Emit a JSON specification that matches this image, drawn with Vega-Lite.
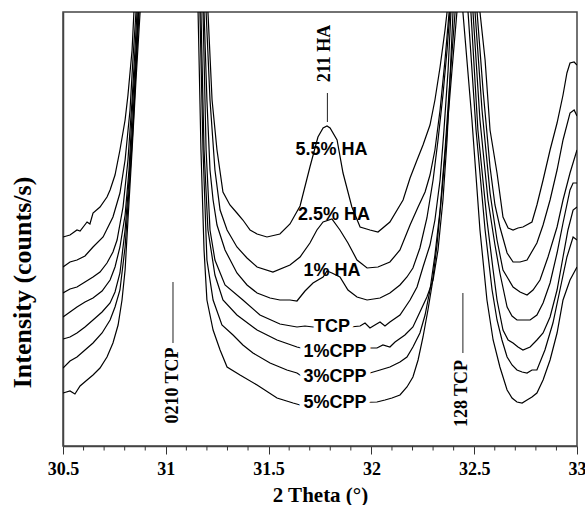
{
  "$schema": "https://vega.github.io/schema/vega-lite/v6.json",
  "width": 514,
  "height": 434,
  "autosize": {"type": "none"},
  "padding": {"left": 63, "top": 12, "right": 8, "bottom": 59},
  "background": "white",
  "config": {
    "view": {"stroke": "#444", "strokeWidth": 1.5},
    "axis": {"domainColor": "#444", "domainWidth": 1.5, "tickColor": "#333", "tickWidth": 1, "labelFont": "Liberation Serif", "labelFontWeight": "bold", "labelFontSize": 18, "labelColor": "black", "titleFont": "Liberation Serif", "titleFontWeight": "bold", "titleColor": "black", "grid": false}
  },
  "datasets": {
    "curves": [
      {"s":"5.5% HA","t":30.500,"i":209},{"s":"5.5% HA","t":30.534,"i":211},{"s":"5.5% HA","t":30.568,"i":216},{"s":"5.5% HA","t":30.583,"i":215},{"s":"5.5% HA","t":30.617,"i":224},{"s":"5.5% HA","t":30.631,"i":222},{"s":"5.5% HA","t":30.646,"i":233},{"s":"5.5% HA","t":30.680,"i":239},{"s":"5.5% HA","t":30.714,"i":249},{"s":"5.5% HA","t":30.729,"i":256},{"s":"5.5% HA","t":30.753,"i":271},{"s":"5.5% HA","t":30.777,"i":296},{"s":"5.5% HA","t":30.802,"i":326},{"s":"5.5% HA","t":30.816,"i":351},{"s":"5.5% HA","t":30.836,"i":396},{"s":"5.5% HA","t":30.845,"i":434},{"s":"5.5% HA","t":31.030,"i":2000},{"s":"5.5% HA","t":31.205,"i":434},{"s":"5.5% HA","t":31.225,"i":346},{"s":"5.5% HA","t":31.249,"i":296},{"s":"5.5% HA","t":31.278,"i":254},{"s":"5.5% HA","t":31.312,"i":241},{"s":"5.5% HA","t":31.346,"i":233},{"s":"5.5% HA","t":31.375,"i":226},{"s":"5.5% HA","t":31.410,"i":216},{"s":"5.5% HA","t":31.444,"i":212},{"s":"5.5% HA","t":31.492,"i":209},{"s":"5.5% HA","t":31.555,"i":212},{"s":"5.5% HA","t":31.604,"i":222},{"s":"5.5% HA","t":31.653,"i":240},{"s":"5.5% HA","t":31.701,"i":279},{"s":"5.5% HA","t":31.740,"i":309},{"s":"5.5% HA","t":31.765,"i":318},{"s":"5.5% HA","t":31.784,"i":320},{"s":"5.5% HA","t":31.799,"i":318},{"s":"5.5% HA","t":31.833,"i":306},{"s":"5.5% HA","t":31.862,"i":273},{"s":"5.5% HA","t":31.905,"i":239},{"s":"5.5% HA","t":31.945,"i":219},{"s":"5.5% HA","t":31.993,"i":216},{"s":"5.5% HA","t":32.032,"i":214},{"s":"5.5% HA","t":32.090,"i":224},{"s":"5.5% HA","t":32.154,"i":246},{"s":"5.5% HA","t":32.188,"i":268},{"s":"5.5% HA","t":32.222,"i":286},{"s":"5.5% HA","t":32.251,"i":301},{"s":"5.5% HA","t":32.285,"i":321},{"s":"5.5% HA","t":32.309,"i":346},{"s":"5.5% HA","t":32.334,"i":379},{"s":"5.5% HA","t":32.358,"i":416},{"s":"5.5% HA","t":32.368,"i":434},{"s":"5.5% HA","t":32.440,"i":2000},{"s":"5.5% HA","t":32.528,"i":434},{"s":"5.5% HA","t":32.553,"i":386},{"s":"5.5% HA","t":32.577,"i":316},{"s":"5.5% HA","t":32.611,"i":273},{"s":"5.5% HA","t":32.640,"i":229},{"s":"5.5% HA","t":32.665,"i":218},{"s":"5.5% HA","t":32.689,"i":216},{"s":"5.5% HA","t":32.713,"i":218},{"s":"5.5% HA","t":32.737,"i":219},{"s":"5.5% HA","t":32.781,"i":224},{"s":"5.5% HA","t":32.805,"i":241},{"s":"5.5% HA","t":32.835,"i":266},{"s":"5.5% HA","t":32.869,"i":296},{"s":"5.5% HA","t":32.903,"i":323},{"s":"5.5% HA","t":32.932,"i":351},{"s":"5.5% HA","t":32.951,"i":373},{"s":"5.5% HA","t":32.966,"i":383},{"s":"5.5% HA","t":32.986,"i":384},{"s":"5.5% HA","t":33.000,"i":381},

      {"s":"2.5% HA","t":30.500,"i":179},{"s":"2.5% HA","t":30.534,"i":184},{"s":"2.5% HA","t":30.568,"i":186},{"s":"2.5% HA","t":30.607,"i":190},{"s":"2.5% HA","t":30.646,"i":199},{"s":"2.5% HA","t":30.695,"i":209},{"s":"2.5% HA","t":30.743,"i":229},{"s":"2.5% HA","t":30.777,"i":253},{"s":"2.5% HA","t":30.802,"i":286},{"s":"2.5% HA","t":30.826,"i":336},{"s":"2.5% HA","t":30.840,"i":386},{"s":"2.5% HA","t":30.855,"i":434},{"s":"2.5% HA","t":31.030,"i":2000},{"s":"2.5% HA","t":31.196,"i":434},{"s":"2.5% HA","t":31.215,"i":346},{"s":"2.5% HA","t":31.239,"i":276},{"s":"2.5% HA","t":31.264,"i":236},{"s":"2.5% HA","t":31.298,"i":216},{"s":"2.5% HA","t":31.346,"i":199},{"s":"2.5% HA","t":31.395,"i":188},{"s":"2.5% HA","t":31.444,"i":179},{"s":"2.5% HA","t":31.521,"i":174},{"s":"2.5% HA","t":31.604,"i":181},{"s":"2.5% HA","t":31.653,"i":189},{"s":"2.5% HA","t":31.701,"i":203},{"s":"2.5% HA","t":31.735,"i":216},{"s":"2.5% HA","t":31.765,"i":224},{"s":"2.5% HA","t":31.808,"i":227},{"s":"2.5% HA","t":31.847,"i":216},{"s":"2.5% HA","t":31.886,"i":203},{"s":"2.5% HA","t":31.930,"i":186},{"s":"2.5% HA","t":31.979,"i":178},{"s":"2.5% HA","t":32.032,"i":179},{"s":"2.5% HA","t":32.090,"i":184},{"s":"2.5% HA","t":32.139,"i":196},{"s":"2.5% HA","t":32.188,"i":221},{"s":"2.5% HA","t":32.227,"i":239},{"s":"2.5% HA","t":32.261,"i":254},{"s":"2.5% HA","t":32.285,"i":271},{"s":"2.5% HA","t":32.309,"i":296},{"s":"2.5% HA","t":32.334,"i":336},{"s":"2.5% HA","t":32.358,"i":386},{"s":"2.5% HA","t":32.378,"i":434},{"s":"2.5% HA","t":32.440,"i":2000},{"s":"2.5% HA","t":32.514,"i":434},{"s":"2.5% HA","t":32.543,"i":356},{"s":"2.5% HA","t":32.577,"i":279},{"s":"2.5% HA","t":32.601,"i":241},{"s":"2.5% HA","t":32.625,"i":219},{"s":"2.5% HA","t":32.660,"i":193},{"s":"2.5% HA","t":32.689,"i":184},{"s":"2.5% HA","t":32.723,"i":184},{"s":"2.5% HA","t":32.757,"i":186},{"s":"2.5% HA","t":32.805,"i":203},{"s":"2.5% HA","t":32.835,"i":221},{"s":"2.5% HA","t":32.869,"i":246},{"s":"2.5% HA","t":32.903,"i":276},{"s":"2.5% HA","t":32.932,"i":306},{"s":"2.5% HA","t":32.966,"i":333},{"s":"2.5% HA","t":32.986,"i":336},{"s":"2.5% HA","t":33.000,"i":330},

      {"s":"1% HA","t":30.500,"i":153},{"s":"1% HA","t":30.534,"i":157},{"s":"1% HA","t":30.568,"i":159},{"s":"1% HA","t":30.607,"i":164},{"s":"1% HA","t":30.646,"i":169},{"s":"1% HA","t":30.680,"i":174},{"s":"1% HA","t":30.714,"i":183},{"s":"1% HA","t":30.743,"i":194},{"s":"1% HA","t":30.763,"i":206},{"s":"1% HA","t":30.792,"i":239},{"s":"1% HA","t":30.816,"i":286},{"s":"1% HA","t":30.836,"i":346},{"s":"1% HA","t":30.850,"i":396},{"s":"1% HA","t":30.860,"i":434},{"s":"1% HA","t":31.030,"i":2000},{"s":"1% HA","t":31.186,"i":434},{"s":"1% HA","t":31.200,"i":346},{"s":"1% HA","t":31.215,"i":276},{"s":"1% HA","t":31.230,"i":246},{"s":"1% HA","t":31.249,"i":221},{"s":"1% HA","t":31.288,"i":196},{"s":"1% HA","t":31.346,"i":173},{"s":"1% HA","t":31.395,"i":161},{"s":"1% HA","t":31.444,"i":153},{"s":"1% HA","t":31.507,"i":148},{"s":"1% HA","t":31.555,"i":146},{"s":"1% HA","t":31.604,"i":146},{"s":"1% HA","t":31.638,"i":145},{"s":"1% HA","t":31.677,"i":155},{"s":"1% HA","t":31.716,"i":163},{"s":"1% HA","t":31.765,"i":169},{"s":"1% HA","t":31.784,"i":175},{"s":"1% HA","t":31.808,"i":173},{"s":"1% HA","t":31.847,"i":169},{"s":"1% HA","t":31.886,"i":156},{"s":"1% HA","t":31.930,"i":149},{"s":"1% HA","t":31.979,"i":146},{"s":"1% HA","t":32.042,"i":148},{"s":"1% HA","t":32.090,"i":153},{"s":"1% HA","t":32.139,"i":161},{"s":"1% HA","t":32.173,"i":169},{"s":"1% HA","t":32.202,"i":178},{"s":"1% HA","t":32.236,"i":198},{"s":"1% HA","t":32.270,"i":228},{"s":"1% HA","t":32.300,"i":266},{"s":"1% HA","t":32.324,"i":306},{"s":"1% HA","t":32.348,"i":351},{"s":"1% HA","t":32.368,"i":396},{"s":"1% HA","t":32.382,"i":434},{"s":"1% HA","t":32.440,"i":2000},{"s":"1% HA","t":32.504,"i":434},{"s":"1% HA","t":32.538,"i":336},{"s":"1% HA","t":32.577,"i":253},{"s":"1% HA","t":32.611,"i":206},{"s":"1% HA","t":32.640,"i":176},{"s":"1% HA","t":32.689,"i":159},{"s":"1% HA","t":32.723,"i":154},{"s":"1% HA","t":32.757,"i":151},{"s":"1% HA","t":32.786,"i":156},{"s":"1% HA","t":32.820,"i":166},{"s":"1% HA","t":32.859,"i":189},{"s":"1% HA","t":32.903,"i":219},{"s":"1% HA","t":32.932,"i":246},{"s":"1% HA","t":32.966,"i":273},{"s":"1% HA","t":33.000,"i":296},

      {"s":"TCP","t":30.500,"i":129},{"s":"TCP","t":30.534,"i":134},{"s":"TCP","t":30.568,"i":139},{"s":"TCP","t":30.607,"i":144},{"s":"TCP","t":30.646,"i":148},{"s":"TCP","t":30.690,"i":155},{"s":"TCP","t":30.729,"i":166},{"s":"TCP","t":30.753,"i":179},{"s":"TCP","t":30.777,"i":199},{"s":"TCP","t":30.802,"i":231},{"s":"TCP","t":30.821,"i":276},{"s":"TCP","t":30.840,"i":346},{"s":"TCP","t":30.855,"i":396},{"s":"TCP","t":30.865,"i":434},{"s":"TCP","t":31.030,"i":2000},{"s":"TCP","t":31.181,"i":434},{"s":"TCP","t":31.196,"i":296},{"s":"TCP","t":31.215,"i":216},{"s":"TCP","t":31.239,"i":186},{"s":"TCP","t":31.288,"i":161},{"s":"TCP","t":31.375,"i":146},{"s":"TCP","t":31.458,"i":131},{"s":"TCP","t":31.555,"i":122},{"s":"TCP","t":31.638,"i":119},{"s":"TCP","t":31.677,"i":120},{"s":"TCP","t":31.716,"i":119},{"s":"TCP","t":31.799,"i":119},{"s":"TCP","t":31.896,"i":119},{"s":"TCP","t":31.945,"i":120},{"s":"TCP","t":31.969,"i":123},{"s":"TCP","t":31.993,"i":118},{"s":"TCP","t":32.017,"i":121},{"s":"TCP","t":32.042,"i":124},{"s":"TCP","t":32.066,"i":120},{"s":"TCP","t":32.090,"i":124},{"s":"TCP","t":32.139,"i":131},{"s":"TCP","t":32.188,"i":146},{"s":"TCP","t":32.222,"i":159},{"s":"TCP","t":32.251,"i":179},{"s":"TCP","t":32.285,"i":201},{"s":"TCP","t":32.309,"i":226},{"s":"TCP","t":32.334,"i":266},{"s":"TCP","t":32.353,"i":316},{"s":"TCP","t":32.373,"i":376},{"s":"TCP","t":32.387,"i":434},{"s":"TCP","t":32.440,"i":2000},{"s":"TCP","t":32.494,"i":434},{"s":"TCP","t":32.528,"i":326},{"s":"TCP","t":32.567,"i":246},{"s":"TCP","t":32.601,"i":201},{"s":"TCP","t":32.625,"i":173},{"s":"TCP","t":32.660,"i":139},{"s":"TCP","t":32.684,"i":130},{"s":"TCP","t":32.708,"i":126},{"s":"TCP","t":32.737,"i":126},{"s":"TCP","t":32.772,"i":126},{"s":"TCP","t":32.805,"i":131},{"s":"TCP","t":32.835,"i":143},{"s":"TCP","t":32.869,"i":163},{"s":"TCP","t":32.903,"i":193},{"s":"TCP","t":32.932,"i":223},{"s":"TCP","t":32.966,"i":256},{"s":"TCP","t":32.981,"i":263},{"s":"TCP","t":33.000,"i":263},

      {"s":"1%CPP","t":30.500,"i":107},{"s":"1%CPP","t":30.534,"i":109},{"s":"1%CPP","t":30.568,"i":113},{"s":"1%CPP","t":30.607,"i":119},{"s":"1%CPP","t":30.646,"i":126},{"s":"1%CPP","t":30.690,"i":134},{"s":"1%CPP","t":30.729,"i":143},{"s":"1%CPP","t":30.753,"i":154},{"s":"1%CPP","t":30.777,"i":173},{"s":"1%CPP","t":30.802,"i":216},{"s":"1%CPP","t":30.821,"i":266},{"s":"1%CPP","t":30.840,"i":326},{"s":"1%CPP","t":30.855,"i":386},{"s":"1%CPP","t":30.867,"i":434},{"s":"1%CPP","t":31.030,"i":2000},{"s":"1%CPP","t":31.171,"i":434},{"s":"1%CPP","t":31.186,"i":296},{"s":"1%CPP","t":31.205,"i":216},{"s":"1%CPP","t":31.239,"i":171},{"s":"1%CPP","t":31.278,"i":146},{"s":"1%CPP","t":31.346,"i":131},{"s":"1%CPP","t":31.444,"i":116},{"s":"1%CPP","t":31.541,"i":106},{"s":"1%CPP","t":31.638,"i":99},{"s":"1%CPP","t":31.677,"i":97},{"s":"1%CPP","t":31.847,"i":98},{"s":"1%CPP","t":32.027,"i":98},{"s":"1%CPP","t":32.056,"i":101},{"s":"1%CPP","t":32.090,"i":99},{"s":"1%CPP","t":32.115,"i":104},{"s":"1%CPP","t":32.163,"i":111},{"s":"1%CPP","t":32.202,"i":119},{"s":"1%CPP","t":32.236,"i":134},{"s":"1%CPP","t":32.270,"i":149},{"s":"1%CPP","t":32.300,"i":166},{"s":"1%CPP","t":32.324,"i":196},{"s":"1%CPP","t":32.348,"i":246},{"s":"1%CPP","t":32.368,"i":306},{"s":"1%CPP","t":32.382,"i":366},{"s":"1%CPP","t":32.397,"i":434},{"s":"1%CPP","t":32.440,"i":2000},{"s":"1%CPP","t":32.484,"i":434},{"s":"1%CPP","t":32.518,"i":316},{"s":"1%CPP","t":32.562,"i":226},{"s":"1%CPP","t":32.592,"i":176},{"s":"1%CPP","t":32.611,"i":146},{"s":"1%CPP","t":32.640,"i":116},{"s":"1%CPP","t":32.665,"i":106},{"s":"1%CPP","t":32.689,"i":103},{"s":"1%CPP","t":32.713,"i":99},{"s":"1%CPP","t":32.737,"i":96},{"s":"1%CPP","t":32.772,"i":99},{"s":"1%CPP","t":32.805,"i":106},{"s":"1%CPP","t":32.835,"i":113},{"s":"1%CPP","t":32.869,"i":129},{"s":"1%CPP","t":32.903,"i":156},{"s":"1%CPP","t":32.932,"i":189},{"s":"1%CPP","t":32.956,"i":216},{"s":"1%CPP","t":32.981,"i":236},{"s":"1%CPP","t":33.000,"i":239},

      {"s":"3%CPP","t":30.500,"i":78},{"s":"3%CPP","t":30.534,"i":85},{"s":"3%CPP","t":30.568,"i":89},{"s":"3%CPP","t":30.607,"i":96},{"s":"3%CPP","t":30.646,"i":103},{"s":"3%CPP","t":30.690,"i":113},{"s":"3%CPP","t":30.729,"i":126},{"s":"3%CPP","t":30.753,"i":139},{"s":"3%CPP","t":30.777,"i":156},{"s":"3%CPP","t":30.802,"i":199},{"s":"3%CPP","t":30.821,"i":256},{"s":"3%CPP","t":30.840,"i":316},{"s":"3%CPP","t":30.855,"i":376},{"s":"3%CPP","t":30.870,"i":434},{"s":"3%CPP","t":31.030,"i":2000},{"s":"3%CPP","t":31.166,"i":434},{"s":"3%CPP","t":31.181,"i":296},{"s":"3%CPP","t":31.200,"i":186},{"s":"3%CPP","t":31.230,"i":146},{"s":"3%CPP","t":31.273,"i":121},{"s":"3%CPP","t":31.327,"i":111},{"s":"3%CPP","t":31.375,"i":101},{"s":"3%CPP","t":31.424,"i":93},{"s":"3%CPP","t":31.507,"i":83},{"s":"3%CPP","t":31.589,"i":76},{"s":"3%CPP","t":31.638,"i":73},{"s":"3%CPP","t":31.667,"i":69},{"s":"3%CPP","t":31.847,"i":72},{"s":"3%CPP","t":31.993,"i":73},{"s":"3%CPP","t":32.042,"i":76},{"s":"3%CPP","t":32.090,"i":79},{"s":"3%CPP","t":32.139,"i":84},{"s":"3%CPP","t":32.173,"i":89},{"s":"3%CPP","t":32.202,"i":99},{"s":"3%CPP","t":32.236,"i":113},{"s":"3%CPP","t":32.261,"i":131},{"s":"3%CPP","t":32.285,"i":156},{"s":"3%CPP","t":32.309,"i":191},{"s":"3%CPP","t":32.334,"i":236},{"s":"3%CPP","t":32.358,"i":296},{"s":"3%CPP","t":32.382,"i":366},{"s":"3%CPP","t":32.407,"i":434},{"s":"3%CPP","t":32.438,"i":2000},{"s":"3%CPP","t":32.470,"i":434},{"s":"3%CPP","t":32.509,"i":316},{"s":"3%CPP","t":32.553,"i":216},{"s":"3%CPP","t":32.587,"i":156},{"s":"3%CPP","t":32.611,"i":126},{"s":"3%CPP","t":32.635,"i":106},{"s":"3%CPP","t":32.660,"i":89},{"s":"3%CPP","t":32.684,"i":81},{"s":"3%CPP","t":32.708,"i":76},{"s":"3%CPP","t":32.733,"i":74},{"s":"3%CPP","t":32.757,"i":73},{"s":"3%CPP","t":32.781,"i":76},{"s":"3%CPP","t":32.805,"i":76},{"s":"3%CPP","t":32.844,"i":96},{"s":"3%CPP","t":32.883,"i":123},{"s":"3%CPP","t":32.917,"i":156},{"s":"3%CPP","t":32.951,"i":189},{"s":"3%CPP","t":32.981,"i":209},{"s":"3%CPP","t":33.000,"i":206},

      {"s":"5%CPP","t":30.500,"i":53},{"s":"5%CPP","t":30.534,"i":55},{"s":"5%CPP","t":30.558,"i":52},{"s":"5%CPP","t":30.583,"i":60},{"s":"5%CPP","t":30.617,"i":66},{"s":"5%CPP","t":30.646,"i":71},{"s":"5%CPP","t":30.680,"i":78},{"s":"5%CPP","t":30.714,"i":89},{"s":"5%CPP","t":30.743,"i":103},{"s":"5%CPP","t":30.768,"i":121},{"s":"5%CPP","t":30.787,"i":146},{"s":"5%CPP","t":30.802,"i":176},{"s":"5%CPP","t":30.816,"i":226},{"s":"5%CPP","t":30.836,"i":296},{"s":"5%CPP","t":30.855,"i":366},{"s":"5%CPP","t":30.875,"i":434},{"s":"5%CPP","t":31.030,"i":2000},{"s":"5%CPP","t":31.157,"i":434},{"s":"5%CPP","t":31.171,"i":296},{"s":"5%CPP","t":31.186,"i":196},{"s":"5%CPP","t":31.200,"i":146},{"s":"5%CPP","t":31.230,"i":116},{"s":"5%CPP","t":31.264,"i":96},{"s":"5%CPP","t":31.298,"i":79},{"s":"5%CPP","t":31.361,"i":71},{"s":"5%CPP","t":31.444,"i":61},{"s":"5%CPP","t":31.541,"i":48},{"s":"5%CPP","t":31.619,"i":43},{"s":"5%CPP","t":31.653,"i":41},{"s":"5%CPP","t":31.847,"i":43},{"s":"5%CPP","t":32.027,"i":44},{"s":"5%CPP","t":32.066,"i":46},{"s":"5%CPP","t":32.100,"i":48},{"s":"5%CPP","t":32.139,"i":51},{"s":"5%CPP","t":32.173,"i":59},{"s":"5%CPP","t":32.202,"i":69},{"s":"5%CPP","t":32.227,"i":86},{"s":"5%CPP","t":32.251,"i":109},{"s":"5%CPP","t":32.275,"i":136},{"s":"5%CPP","t":32.295,"i":161},{"s":"5%CPP","t":32.319,"i":201},{"s":"5%CPP","t":32.344,"i":256},{"s":"5%CPP","t":32.368,"i":316},{"s":"5%CPP","t":32.392,"i":376},{"s":"5%CPP","t":32.416,"i":434},{"s":"5%CPP","t":32.431,"i":2000},{"s":"5%CPP","t":32.445,"i":434},{"s":"5%CPP","t":32.489,"i":326},{"s":"5%CPP","t":32.528,"i":216},{"s":"5%CPP","t":32.562,"i":146},{"s":"5%CPP","t":32.592,"i":106},{"s":"5%CPP","t":32.625,"i":79},{"s":"5%CPP","t":32.660,"i":56},{"s":"5%CPP","t":32.684,"i":48},{"s":"5%CPP","t":32.708,"i":44},{"s":"5%CPP","t":32.733,"i":43},{"s":"5%CPP","t":32.757,"i":46},{"s":"5%CPP","t":32.781,"i":49},{"s":"5%CPP","t":32.805,"i":53},{"s":"5%CPP","t":32.835,"i":66},{"s":"5%CPP","t":32.869,"i":86},{"s":"5%CPP","t":32.903,"i":113},{"s":"5%CPP","t":32.932,"i":146},{"s":"5%CPP","t":32.966,"i":166},{"s":"5%CPP","t":33.000,"i":179}
    ],
    "haLabels": [
      {"label":"5.5% HA","t":31.806,"i":296},
      {"label":"2.5% HA","t":31.818,"i":231},
      {"label":"1% HA","t":31.808,"i":175}
    ],
    "tcpLabels": [
      {"label":"TCP","t":31.808,"i":119.5},
      {"label":"1%CPP","t":31.823,"i":94.5},
      {"label":"3%CPP","t":31.823,"i":69},
      {"label":"5%CPP","t":31.823,"i":43}
    ],
    "peakLines": [
      {"t":31.786,"i":353,"i2":324},
      {"t":31.035,"i":164,"i2":103},
      {"t":32.445,"i":153,"i2":93}
    ],
    "peakNames": [
      {"label":"211 HA","t":31.774,"i":392.5},
      {"label":"0210 TCP","t":31.033,"i":60.5},
      {"label":"128 TCP","t":32.443,"i":52.5}
    ],
    "minorTicks": [
      {"t":30.6},{"t":30.7},{"t":30.8},{"t":30.9},
      {"t":31.1},{"t":31.2},{"t":31.3},{"t":31.4},
      {"t":31.6},{"t":31.7},{"t":31.8},{"t":31.9},
      {"t":32.1},{"t":32.2},{"t":32.3},{"t":32.4},
      {"t":32.6},{"t":32.7},{"t":32.8},{"t":32.9}
    ]
  },
  "layer": [
    {
      "data": {"name": "curves"},
      "mark": {"type": "line", "clip": true, "color": "black", "strokeWidth": 1.2},
      "encoding": {
        "x": {
          "field": "t", "type": "quantitative",
          "scale": {"domain": [30.5, 33], "nice": false, "zero": false},
          "axis": {
            "values": [30.5, 31, 31.5, 32, 32.5, 33],
            "format": "~g",
            "tickSize": 8,
            "labelPadding": 6,
            "labelOverlap": false,
            "labelFlush": false,
            "title": "2 Theta (°)",
            "titleFontSize": 21,
            "titleY": 55,
            "titleBaseline": "alphabetic"
          }
        },
        "y": {
          "field": "i", "type": "quantitative",
          "scale": {"domain": [0, 434], "nice": false, "zero": false},
          "axis": {
            "ticks": false, "labels": false,
            "title": "Intensity (counts/s)",
            "titleFontSize": 26,
            "titleX": -33, "titleY": 270,
            "titleAngle": 270,
            "titleAlign": "center",
            "titleBaseline": "alphabetic"
          }
        },
        "detail": {"field": "s"}
      }
    },
    {
      "data": {"name": "minorTicks"},
      "mark": {"type": "rule", "color": "#333", "strokeWidth": 1, "clip": false},
      "encoding": {
        "x": {"field": "t", "type": "quantitative"},
        "y": {"datum": 0},
        "y2": {"datum": -4.5}
      }
    },
    {
      "data": {"name": "tcpLabels"},
      "mark": {"type": "text", "font": "Liberation Sans", "fontWeight": "bold", "fontSize": 18, "align": "center", "baseline": "middle", "fill": "white", "stroke": "white", "strokeWidth": 9, "strokeJoin": "round"},
      "encoding": {
        "x": {"field": "t", "type": "quantitative"},
        "y": {"field": "i", "type": "quantitative"},
        "text": {"field": "label"}
      }
    },
    {
      "data": {"name": "tcpLabels"},
      "mark": {"type": "text", "font": "Liberation Sans", "fontWeight": "bold", "fontSize": 18, "align": "center", "baseline": "middle", "color": "black"},
      "encoding": {
        "x": {"field": "t", "type": "quantitative"},
        "y": {"field": "i", "type": "quantitative"},
        "text": {"field": "label"}
      }
    },
    {
      "data": {"name": "haLabels"},
      "mark": {"type": "text", "font": "Liberation Sans", "fontWeight": "bold", "fontSize": 18, "align": "center", "baseline": "middle", "color": "black"},
      "encoding": {
        "x": {"field": "t", "type": "quantitative"},
        "y": {"field": "i", "type": "quantitative"},
        "text": {"field": "label"}
      }
    },
    {
      "data": {"name": "peakLines"},
      "mark": {"type": "rule", "color": "#222", "strokeWidth": 1},
      "encoding": {
        "x": {"field": "t", "type": "quantitative"},
        "y": {"field": "i", "type": "quantitative"},
        "y2": {"field": "i2"}
      }
    },
    {
      "data": {"name": "peakNames"},
      "mark": {"type": "text", "font": "Liberation Serif", "fontWeight": "bold", "fontSize": 18, "angle": 270, "align": "center", "baseline": "middle", "color": "black"},
      "encoding": {
        "x": {"field": "t", "type": "quantitative"},
        "y": {"field": "i", "type": "quantitative"},
        "text": {"field": "label"}
      }
    }
  ]
}
